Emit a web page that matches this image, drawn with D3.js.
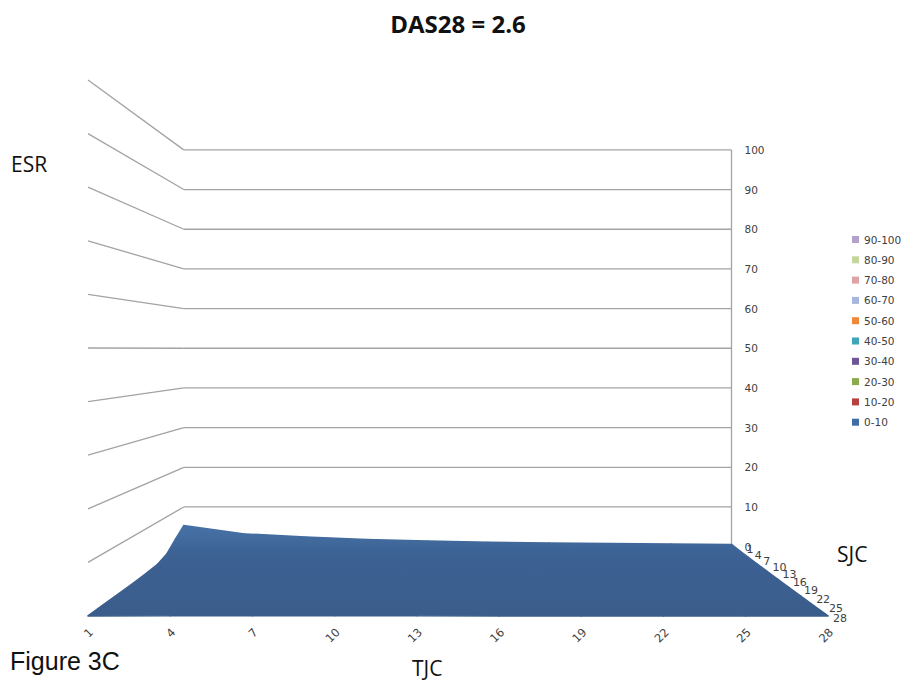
<!DOCTYPE html>
<html>
<head>
<meta charset="utf-8">
<script src="https://cdn.jsdelivr.net/npm/d3@7"></script>
<style>
  body { margin: 0; background: #fff; }
  svg { display: block; }
</style>
</head>
<body>
<svg id="surfaceChart" width="920" height="685"></svg>
<script>
// category axes of the surface
const tjcTicks = [1, 4, 7, 10, 13, 16, 19, 22, 25, 28];
const sjcTicks = [1, 4, 7, 10, 13, 16, 19, 22, 25, 28];
const esrTicks = [0, 10, 20, 30, 40, 50, 60, 70, 80, 90, 100];

// ESR, one row per SJC value (columns follow tjcTicks)
const esrSjc1  = [5.3, 3.2, 2.4, 1.8, 1.4, 1.1, 0.9, 0.75, 0.65, 0.55];
const esrSjc4  = [3.3, 2.2, 1.7, 1.3, 1.0, 0.8, 0.65, 0.55, 0.45, 0.4];
const esrSjc7  = [1.2, 1.4, 1.2, 1.0, 0.8, 0.6, 0.5, 0.4, 0.35, 0.3];
const esrSjc10 = [0.3, 0.9, 0.9, 0.8, 0.65, 0.5, 0.4, 0.35, 0.3, 0.25];
const esrSjc13 = [0.1, 0.6, 0.7, 0.6, 0.5, 0.4, 0.3, 0.25, 0.2, 0.2];
const esrSjc16 = [0, 0.4, 0.5, 0.45, 0.4, 0.3, 0.25, 0.2, 0.15, 0.15];
const esrSjc19 = [0, 0.3, 0.35, 0.3, 0.3, 0.25, 0.2, 0.15, 0.1, 0.1];
const esrSjc22 = [0, 0.2, 0.25, 0.2, 0.2, 0.15, 0.1, 0.1, 0.1, 0.05];
const esrSjc25 = [0, 0.1, 0.15, 0.15, 0.1, 0.1, 0.05, 0.05, 0.05, 0];
const esrSjc28 = [0, 0.05, 0.05, 0.05, 0.05, 0, 0, 0, 0, 0];

const bandLabels = ["90-100", "80-90", "70-80", "60-70", "50-60", "40-50", "30-40", "20-30", "10-20", "0-10"];
const bandColors = ["#b3a2cc", "#c3d69b", "#dea3a2", "#a7b6dc", "#f0883a", "#3fa6b8", "#6e5596", "#8aaa4c", "#b5423f", "#3f6ea6"];

const esrRows = [esrSjc1, esrSjc4, esrSjc7, esrSjc10, esrSjc13, esrSjc16, esrSjc19, esrSjc22, esrSjc25, esrSjc28];

const svg = d3.select("#surfaceChart");

// front plane scales, then a simple perspective towards the back wall
const x = d3.scaleLinear().domain([1, 28]).range([88, 828]);
const y = d3.scaleLinear().domain([0, 100]).range([616, 80]);
const depth = d3.scaleLinear().domain([28, 1]).range([0, 1]);
const vx = 456.6, vy = 349, persp = 0.351;

function project(t, s, v) {
    const k = 1 / (1 + persp * depth(s));
    return [vx + k * (x(t) - vx), vy + k * (y(v) - vy)];
}

const band = d3.scaleThreshold()
    .domain([10, 20, 30, 40, 50, 60, 70, 80, 90])
    .range(bandColors.slice().reverse());

// walls
const grid = svg.append("g")
    .attr("stroke", "#a3a3a3")
    .attr("stroke-width", 1.3)
    .attr("fill", "none");

grid.selectAll(".back")
    .data(esrTicks)
    .enter()
    .append("line")
    .attr("x1", d => project(1, 1, d)[0])
    .attr("y1", d => project(1, 1, d)[1])
    .attr("x2", d => project(28, 1, d)[0])
    .attr("y2", d => project(28, 1, d)[1]);

grid.selectAll(".side")
    .data(esrTicks)
    .enter()
    .append("line")
    .attr("x1", d => project(1, 28, d)[0])
    .attr("y1", d => project(1, 28, d)[1])
    .attr("x2", d => project(1, 1, d)[0])
    .attr("y2", d => project(1, 1, d)[1]);

grid.append("line")
    .attr("x1", project(28, 1, 0)[0])
    .attr("y1", project(28, 1, 0)[1])
    .attr("x2", project(28, 1, 100)[0])
    .attr("y2", project(28, 1, 100)[1]);

// surface, painted from the back row to the front row
const shade = svg.append("defs").append("linearGradient")
    .attr("id", "surfShade")
    .attr("gradientUnits", "userSpaceOnUse")
    .attr("x1", 0).attr("y1", project(1, 1, 6)[1])
    .attr("x2", 0).attr("y2", y(0));
shade.append("stop").attr("offset", 0).attr("stop-color", "#4873a8");
shade.append("stop").attr("offset", 0.35).attr("stop-color", "#3c6193");
shade.append("stop").attr("offset", 1).attr("stop-color", "#3a5d8b");

const quads = [];
for (let i = 0; i < sjcTicks.length - 1; i++) {
    for (let j = 0; j < tjcTicks.length - 1; j++) {
        const corners = [
            [tjcTicks[j], sjcTicks[i], esrRows[i][j]],
            [tjcTicks[j + 1], sjcTicks[i], esrRows[i][j + 1]],
            [tjcTicks[j + 1], sjcTicks[i + 1], esrRows[i + 1][j + 1]],
            [tjcTicks[j], sjcTicks[i + 1], esrRows[i + 1][j]]
        ];
        quads.push({ corners, mean: d3.mean(corners, c => c[2]) });
    }
}

const paint = d => band(d.mean) === bandColors[9] ? "url(#surfShade)" : band(d.mean);

svg.append("g").selectAll("path")
    .data(quads)
    .enter()
    .append("path")
    .attr("d", d => "M" + d.corners.map(c => project(c[0], c[1], c[2]).join(",")).join("L") + "Z")
    .attr("fill", paint)
    .attr("stroke", paint)
    .attr("stroke-width", 1.6)
    .attr("stroke-linejoin", "round");

// ESR tick labels on the back right edge
svg.append("g").selectAll("text")
    .data(esrTicks)
    .enter()
    .append("text")
    .attr("x", d => project(28, 1, d)[0] + 13)
    .attr("y", d => project(28, 1, d)[1] + 4)
    .style("font-family", "DejaVu Sans")
    .style("font-size", "10.5px")
    .style("fill", "#404040")
    .text(d => d);

// SJC labels along the right floor edge
svg.append("g").selectAll("text")
    .data(sjcTicks)
    .enter()
    .append("text")
    .attr("x", d => project(28, d, 0)[0] + (d === 28 ? 5 : 15))
    .attr("y", d => project(28, d, 0)[1] + 6)
    .style("font-family", "DejaVu Sans")
    .style("font-size", "11px")
    .style("fill", "#404040")
    .text(d => d);

// TJC labels under the front edge
svg.append("g").selectAll("text")
    .data(tjcTicks)
    .enter()
    .append("text")
    .attr("text-anchor", "end")
    .attr("transform", d => `translate(${x(d) + 6},${y(0) + 17}) rotate(-45)`)
    .style("font-family", "DejaVu Sans")
    .style("font-size", "11.5px")
    .style("fill", "#404040")
    .text(d => d);

// legend
const legend = svg.append("g").attr("transform", "translate(852,240)");
const item = legend.selectAll("g")
    .data(bandLabels)
    .enter()
    .append("g")
    .attr("transform", (d, i) => `translate(0,${i * 20.3})`);
item.append("rect")
    .attr("x", 0).attr("y", -4)
    .attr("width", 7).attr("height", 7)
    .attr("fill", (d, i) => bandColors[i]);
item.append("text")
    .attr("x", 12).attr("y", 3.5)
    .style("font-family", "DejaVu Sans")
    .style("font-size", "10.5px")
    .style("fill", "#404040")
    .text(d => d);

// titles
svg.append("text")
    .attr("x", 458).attr("y", 33)
    .attr("text-anchor", "middle")
    .style("font-family", "Open Sans")
    .style("font-weight", "bold")
    .style("font-size", "24px")
    .style("fill", "#111")
    .text("DAS28 = 2.6");

svg.append("text")
    .attr("x", 11).attr("y", 172)
    .style("font-family", "Open Sans")
    .style("font-size", "21px")
    .style("fill", "#111")
    .text("ESR");

svg.append("text")
    .attr("x", 837).attr("y", 562)
    .style("font-family", "Open Sans")
    .style("font-size", "21px")
    .style("fill", "#111")
    .text("SJC");

svg.append("text")
    .attr("x", 412).attr("y", 676)
    .style("font-family", "Open Sans")
    .style("font-size", "21px")
    .style("fill", "#111")
    .text("TJC");

svg.append("text")
    .attr("x", 10).attr("y", 670)
    .style("font-family", "Liberation Sans")
    .style("font-size", "25px")
    .style("fill", "#111")
    .text("Figure 3C");
</script>
</body>
</html>
